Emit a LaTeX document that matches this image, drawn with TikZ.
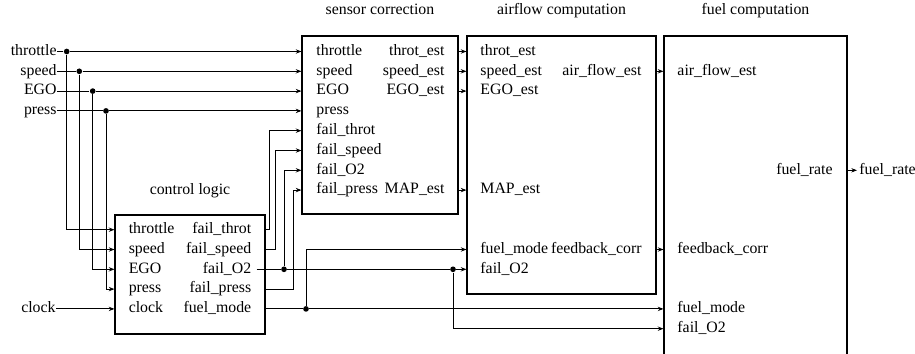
\documentclass[tikz,border=0pt]{standalone}
\usepackage{fontspec}
\setmainfont{Liberation Serif}
\usetikzlibrary{positioning,fit,arrows.meta}
\tikzset{block/.style={draw, line width=0.65pt, inner sep=0pt},
  title/.style={inner sep=0pt, text height=6.5pt, text depth=2pt},
  port/.style={inner sep=0pt, text height=6.5pt, text depth=2pt},
  inport/.style={port, anchor=west},
  outport/.style={port, anchor=east},
  dot/.style={circle, fill, inner sep=0pt, minimum size=3.4pt},}

\begin{document}
\begin{tikzpicture}[x=0.6pt, y=-0.6pt, line width=0.55pt,
    >={Stealth[length=3.4pt,width=2.6pt]}, font=\fontsize{9.5}{11}\selectfont]
        \useasboundingbox (0,0) rectangle (915,353);
        \clip (0,0) rectangle (915,353);
        % Blocks
        \node[block, fit={(115,215) (265,334)}] (ctl) {};
        \node[block, fit={(302,36) (458,214)}] (sens) {};
        \node[block, fit={(467,36) (656,294)}] (air) {};
        \node[block, fit={(664,36) (847,380)}] (fuel) {};
        \node[title, above=10pt of ctl] {control logic};
        \node[title, above=10pt of sens] {sensor correction};
        \node[title, above=10pt of air] {airflow computation};
        \node[title, above=10pt of fuel] {fuel computation};
        % Inputs
        \node[port, anchor=east] (in-throttle) at (57,51.5) {throttle};
        \node[port, anchor=east] (in-speed) at (57,71.3) {speed};
        \node[port, anchor=east] (in-EGO) at (57,91.1) {EGO};
        \node[port, anchor=east] (in-press) at (57,110.9) {press};
        \node[port, anchor=east] (in-clock) at (56,308.9) {clock};
        \node[dot] (d-throttle) at (66.7,51.5) {};
        \node[dot] (d-speed) at (79.3,71.3) {};
        \node[dot] (d-EGO) at (92.7,91.1) {};
        \node[dot] (d-press) at (106,110.9) {};
        % Control logic ports
        \node[inport] (c-throttle) at (128.3,229.7) {throttle};
        \node[inport] (c-speed) at (128.3,249.5) {speed};
        \node[inport] (c-EGO) at (128.3,269.3) {EGO};
        \node[inport] (c-press) at (128.3,289.1) {press};
        \node[inport] (c-clock) at (128.3,308.9) {clock};
        \node[outport] (c-fthrot) at (251.7,229.7) {fail\_throt};
        \node[outport] (c-fspeed) at (251.7,249.5) {fail\_speed};
        \node[outport] (c-fO2) at (251.7,269.3) {fail\_O2};
        \node[outport] (c-fpress) at (251.7,289.1) {fail\_press};
        \node[outport] (c-fmode) at (251.7,308.9) {fuel\_mode};
        % Sensor correction ports
        \node[inport] (s-throttle) at (316,51.5) {throttle};
        \node[inport] (s-speed) at (316,71.3) {speed};
        \node[inport] (s-EGO) at (316,91.1) {EGO};
        \node[inport] (s-press) at (316,110.9) {press};
        \node[inport] (s-fthrot) at (316,130.7) {fail\_throt};
        \node[inport] (s-fspeed) at (316,150.5) {fail\_speed};
        \node[inport] (s-fO2) at (316,170.3) {fail\_O2};
        \node[inport] (s-fpress) at (316,190.1) {fail\_press};
        \node[outport] (s-throtest) at (445,51.5) {throt\_est};
        \node[outport] (s-speedest) at (445,71.3) {speed\_est};
        \node[outport] (s-EGOest) at (445,91.1) {EGO\_est};
        \node[outport] (s-MAPest) at (445,190.1) {MAP\_est};
        % Airflow computation ports
        \node[inport] (a-throtest) at (480,51.5) {throt\_est};
        \node[inport] (a-speedest) at (480,71.3) {speed\_est};
        \node[inport] (a-EGOest) at (480,91.1) {EGO\_est};
        \node[inport] (a-MAPest) at (480,190.1) {MAP\_est};
        \node[inport] (a-fmode) at (480,249.5) {fuel\_mode};
        \node[inport] (a-fO2) at (480,269.3) {fail\_O2};
        \node[outport] (a-airflow) at (642,71.3) {air\_flow\_est};
        \node[outport] (a-fbcorr) at (642,249.5) {feedback\_corr};
        % Fuel computation ports
        \node[inport] (f-airflow) at (677,71.3) {air\_flow\_est};
        \node[inport] (f-fbcorr) at (677,249.5) {feedback\_corr};
        \node[inport] (f-fmode) at (677,308.9) {fuel\_mode};
        \node[inport] (f-fO2) at (677,328.7) {fail\_O2};
        \node[outport] (f-rate) at (833,170.3) {fuel\_rate};
        \node[port, anchor=west, inner xsep=1.2pt] (out-rate) at (857,170.3) {fuel\_rate};
        % Fork dots
        \node[dot] (d-fO2) at (284,269.3) {};
        \node[dot] (d-fO2b) at (453,269.3) {};
        \node[dot] (d-fmode) at (306,308.9) {};
        % Sensor inputs
        \draw (in-throttle) -- (d-throttle);
        \draw (in-speed) -- (d-speed);
        \draw (in-EGO) -- (d-EGO);
        \draw (in-press) -- (d-press);
        \draw[->] (d-throttle) -- (s-throttle -| sens.west);
        \draw[->] (d-speed) -- (s-speed -| sens.west);
        \draw[->] (d-EGO) -- (s-EGO -| sens.west);
        \draw[->] (d-press) -- (s-press -| sens.west);
        \draw[->] (d-throttle) |- (c-throttle -| ctl.west);
        \draw[->] (d-speed) |- (c-speed -| ctl.west);
        \draw[->] (d-EGO) |- (c-EGO -| ctl.west);
        \draw[->] (d-press) |- (c-press -| ctl.west);
        \draw[->] (in-clock) -- (c-clock -| ctl.west);
        % Control logic outputs
        \draw[->] (ctl.east |- c-fthrot) -- ++(4.3,0) |- (s-fthrot -| sens.west);
        \draw[->] (ctl.east |- c-fspeed) -- ++(10,0) |- (s-fspeed -| sens.west);
        \draw ([xshift=3pt]c-fO2.east) -- (d-fO2);
        \draw[->] (d-fO2) |- (s-fO2 -| sens.west);
        \draw (d-fO2) -- (d-fO2b);
        \draw[->] (d-fO2b) -- (a-fO2 -| air.west);
        \draw[->] (d-fO2b) |- (f-fO2 -| fuel.west);
        \draw[->] (ctl.east |- c-fpress) -- ++(28,0) |- (s-fpress -| sens.west);
        \draw (ctl.east |- c-fmode) -- (d-fmode);
        \draw[->] (d-fmode) |- (a-fmode -| air.west);
        \draw[->] (d-fmode) -- (f-fmode -| fuel.west);
        % Estimates
        \draw[->] (sens.east |- s-throtest) -- (a-throtest -| air.west);
        \draw[->] (sens.east |- s-speedest) -- (a-speedest -| air.west);
        \draw[->] (sens.east |- s-EGOest) -- (a-EGOest -| air.west);
        \draw[->] (sens.east |- s-MAPest) -- (a-MAPest -| air.west);
        \draw[->] (air.east |- a-airflow) -- (f-airflow -| fuel.west);
        \draw[->] (air.east |- a-fbcorr) -- (f-fbcorr -| fuel.west);
        \draw[->] (fuel.east |- f-rate) -- (out-rate);
    \end{tikzpicture}
\end{document}
